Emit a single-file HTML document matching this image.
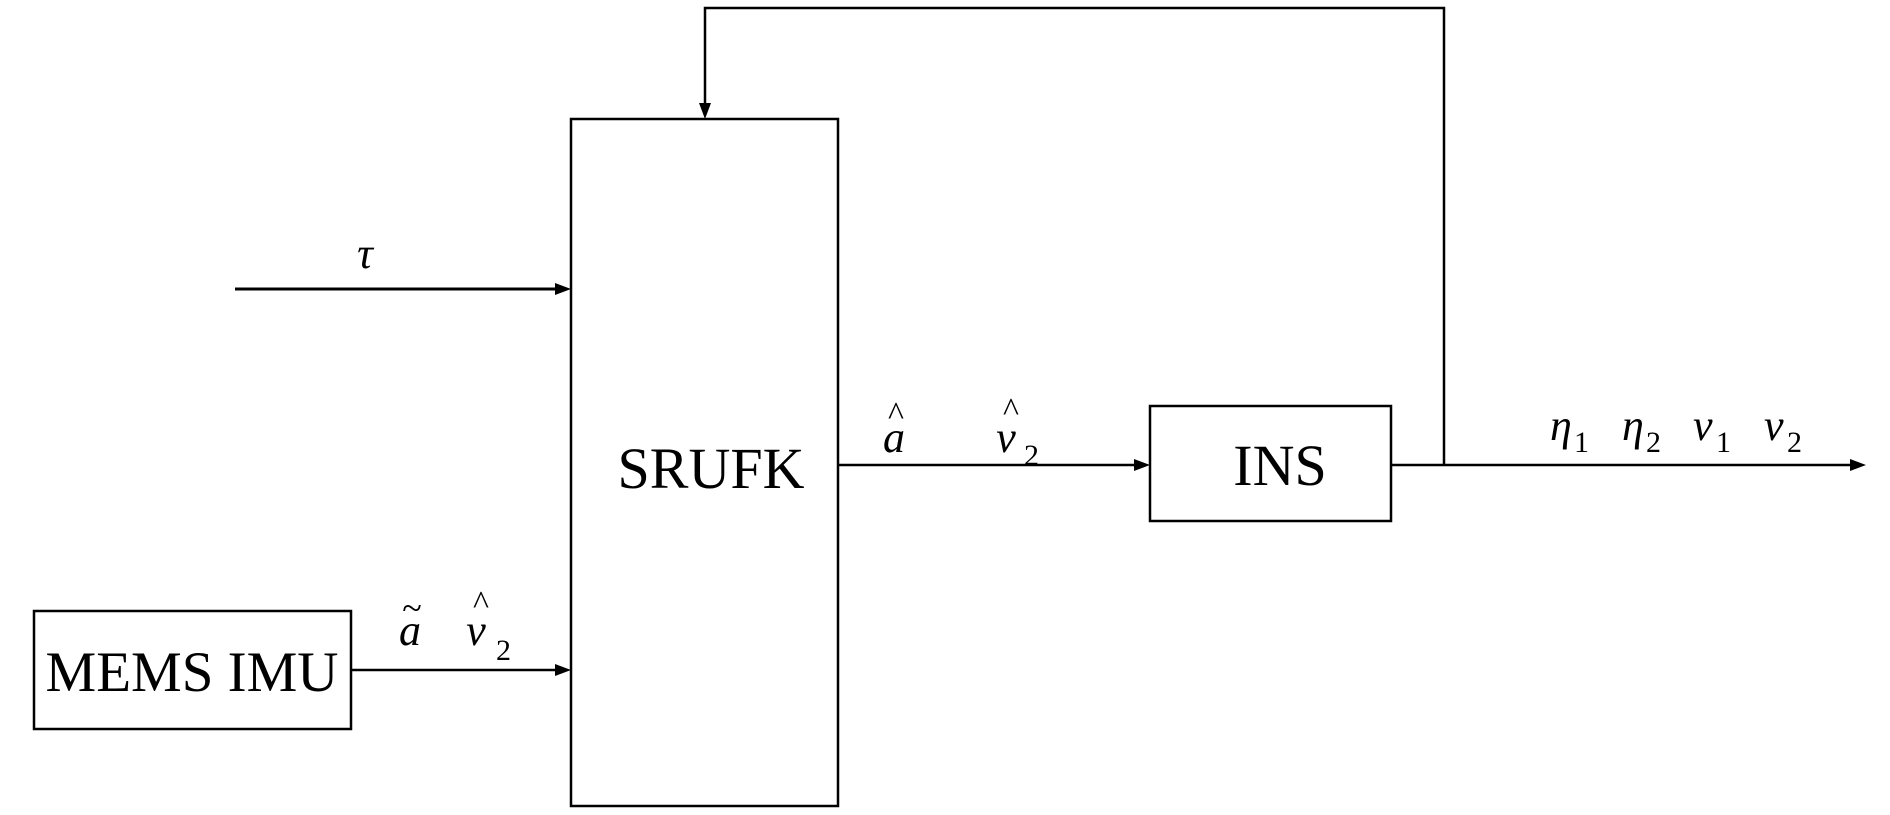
<!DOCTYPE html>
<html><head><meta charset="utf-8"><style>
html,body{margin:0;padding:0;background:#fff;}
svg{display:block}
text{font-family:"Liberation Serif",serif;fill:#000}
.i{font-style:italic}
</style></head><body>
<svg width="1890" height="815" viewBox="0 0 1890 815" xmlns="http://www.w3.org/2000/svg">
<g stroke="#000" stroke-width="2.5" fill="none">
<rect x="571" y="119" width="267" height="687"/>
<rect x="34" y="611" width="317" height="118"/>
<rect x="1150" y="406" width="241" height="115"/>
<line x1="235" y1="289" x2="558" y2="289" stroke-width="3"/>
<line x1="351" y1="670" x2="558" y2="670"/>
<line x1="838" y1="465" x2="1137" y2="465"/>
<line x1="1391" y1="465" x2="1852" y2="465"/>
<polyline points="1444,465 1444,8 705,8 705,105"/>
</g>
<g fill="#000">
<polygon points="571,289 555,283 555,295"/>
<polygon points="571,670 555,664 555,676"/>
<polygon points="1150,465 1134,459 1134,471"/>
<polygon points="1866,465 1850,459 1850,471"/>
<polygon points="705,119 699,103 711,103"/>
</g>
<text x="711" y="488" font-size="58" text-anchor="middle">SRUFK</text>
<text x="192" y="691" font-size="57" text-anchor="middle">MEMS IMU</text>
<text x="1280" y="485" font-size="58" text-anchor="middle">INS</text>
<text x="365" y="268" font-size="44" class="i" text-anchor="middle">τ</text>
<text x="410" y="645" font-size="44" class="i" text-anchor="middle">a</text>
<text x="412" y="620" font-size="36" text-anchor="middle">~</text>
<text x="476" y="645" font-size="44" class="i" text-anchor="middle">v</text>
<text x="481" y="614" font-size="34" text-anchor="middle">^</text>
<text x="496" y="660" font-size="30">2</text>
<text x="894" y="452" font-size="44" class="i" text-anchor="middle">a</text>
<text x="896" y="425" font-size="34" text-anchor="middle">^</text>
<text x="1006" y="452" font-size="44" class="i" text-anchor="middle">v</text>
<text x="1011" y="421" font-size="34" text-anchor="middle">^</text>
<text x="1024" y="465" font-size="30">2</text>
<text x="1550" y="440" font-size="44" class="i">η</text>
<text x="1574" y="452" font-size="30">1</text>
<text x="1622" y="440" font-size="44" class="i">η</text>
<text x="1646" y="452" font-size="30">2</text>
<text x="1693" y="440" font-size="44" class="i">v</text>
<text x="1716" y="452" font-size="30">1</text>
<text x="1764" y="440" font-size="44" class="i">v</text>
<text x="1787" y="452" font-size="30">2</text>
</svg>
</body></html>
